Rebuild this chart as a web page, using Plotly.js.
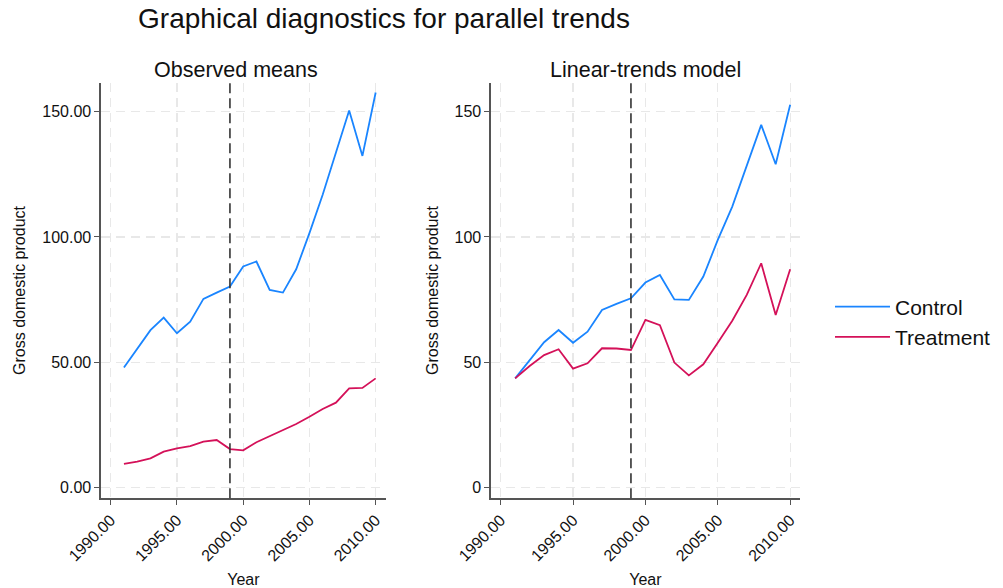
<!DOCTYPE html>
<html>
<head>
<meta charset="utf-8">
<script src="https://cdn.plot.ly/plotly-3.0.1.min.js"></script>
<style>html,body{margin:0;padding:0;background:#fff;}#chart{width:1003px;height:588px;}</style>
</head>
<body>
<div id="chart"></div>
<script>
const years = [1991,1992,1993,1994,1995,1996,1997,1998,1999,2000,2001,2002,2003,2004,2005,2006,2007,2008,2009,2010];
const obsControl = [47.9,55.6,62.8,67.8,61.6,66.2,75.3,77.8,80.2,88.2,90.2,78.9,77.8,87.1,101.5,116.8,133.4,150.4,132.3,157.6];
const obsTreatment = [9.5,10.4,11.7,14.4,15.7,16.6,18.4,19.0,15.4,14.9,18.1,20.6,23.0,25.4,28.3,31.4,33.9,39.6,39.8,43.6];
const linControl = [43.6,50.9,58.0,62.9,57.8,62.2,70.9,73.3,75.5,81.8,84.8,75.1,74.9,84.2,98.8,112.1,128.0,144.7,129.0,152.7];
const linTreatment = [43.6,48.5,52.9,55.2,47.5,49.6,55.6,55.5,54.9,66.9,64.8,49.9,44.8,49.2,57.8,66.6,76.9,89.5,68.9,87.1];
const treatYear = 1999;
const xTicks = [1990,1995,2000,2005,2010];
const yTicks = [0,50,100,150];

const FONT = 'Liberation Sans, Arial, sans-serif';
const cBlue = '#1a85ff';
const cRed = '#d41159';

const traces = [
  {x: years, y: obsControl, xaxis:'x', yaxis:'y', mode:'lines', name:'Control', legendgroup:'c', line:{color:cBlue, width:1.8}},
  {x: years, y: obsTreatment, xaxis:'x', yaxis:'y', mode:'lines', name:'Treatment', legendgroup:'t', line:{color:cRed, width:1.8}},
  {x: years, y: linControl, xaxis:'x2', yaxis:'y2', mode:'lines', name:'Control', legendgroup:'c', showlegend:false, line:{color:cBlue, width:1.8}},
  {x: years, y: linTreatment, xaxis:'x2', yaxis:'y2', mode:'lines', name:'Treatment', legendgroup:'t', showlegend:false, line:{color:cRed, width:1.8}}
];

const W = 1003, H = 588;
const px = v => v / W;
const py = v => 1 - v / H;

function xax(domain, range) {
  return {
    domain: domain, range: range, tickvals: xTicks, tickformat: '.2f', tickangle: -45,
    showline: true, linecolor: '#555', linewidth: 1.3, ticks: 'outside', ticklen: 5, tickcolor: '#555',
    showgrid: true, gridcolor: '#e8e8e8', griddash: '9px,6px', gridwidth: 1.3, zeroline: false,
    tickfont: {size: 16, color: '#111'},
    title: {text: 'Year', font: {size: 16, color: '#111'}, standoff: 10}
  };
}
function yax(domain, fmt, anchor) {
  return {
    domain: domain, range: [-4.23, 161.5], tickvals: yTicks, tickformat: fmt, anchor: anchor,
    showline: true, linecolor: '#555', linewidth: 1.3, ticks: 'outside', ticklen: 5, tickcolor: '#555',
    showgrid: true, gridcolor: '#e8e8e8', griddash: '9px,6px', gridwidth: 1.3, zeroline: false,
    tickfont: {size: 16, color: '#111'},
    title: {text: 'Gross domestic product', font: {size: 16, color: '#111'}, standoff: 12}
  };
}

const yDom = [1 - 498.3 / H, 1 - 82.7 / H];
const layout = {
  width: W, height: H,
  margin: {l: 0, r: 0, t: 0, b: 0},
  paper_bgcolor: '#fff', plot_bgcolor: '#fff',
  font: {family: FONT, color: '#111'},
  title: {text: 'Graphical diagnostics for parallel trends', font: {size: 28, color: '#111'},
          x: px(384), xanchor: 'center', xref: 'paper', y: py(18), yanchor: 'middle', yref: 'container'},
  xaxis: Object.assign(xax([px(100.7), px(386)], [1989.245, 2010.78]), {anchor: 'y'}),
  yaxis: yax(yDom, '.2f', 'x'),
  xaxis2: Object.assign(xax([px(490.7), px(800)], [1989.31, 2010.68]), {anchor: 'y2'}),
  yaxis2: yax(yDom, 'd', 'x2'),
  showlegend: true,
  legend: {x: px(830), xanchor: 'left', y: py(322), yanchor: 'middle', font: {size: 21, color: '#111'},
           bgcolor: 'rgba(0,0,0,0)', itemwidth: 55, tracegroupgap: 0},
  shapes: [
    {type: 'line', xref: 'x', yref: 'y domain', x0: treatYear, x1: treatYear, y0: 0, y1: 1,
     line: {color: '#333', width: 1.6, dash: '10px,5px'}},
    {type: 'line', xref: 'x2', yref: 'y2 domain', x0: treatYear, x1: treatYear, y0: 0, y1: 1,
     line: {color: '#333', width: 1.6, dash: '10px,5px'}}
  ],
  annotations: [
    {text: 'Observed means', xref: 'paper', yref: 'paper', x: px(236), y: py(70), xanchor: 'center', yanchor: 'middle',
     showarrow: false, font: {size: 21.5, color: '#111'}},
    {text: 'Linear-trends model', xref: 'paper', yref: 'paper', x: px(645), y: py(70), xanchor: 'center', yanchor: 'middle',
     showarrow: false, font: {size: 21.5, color: '#111'}}
  ]
};

Plotly.newPlot('chart', traces, layout, {displayModeBar: false, staticPlot: true});
</script>
</body>
</html>
